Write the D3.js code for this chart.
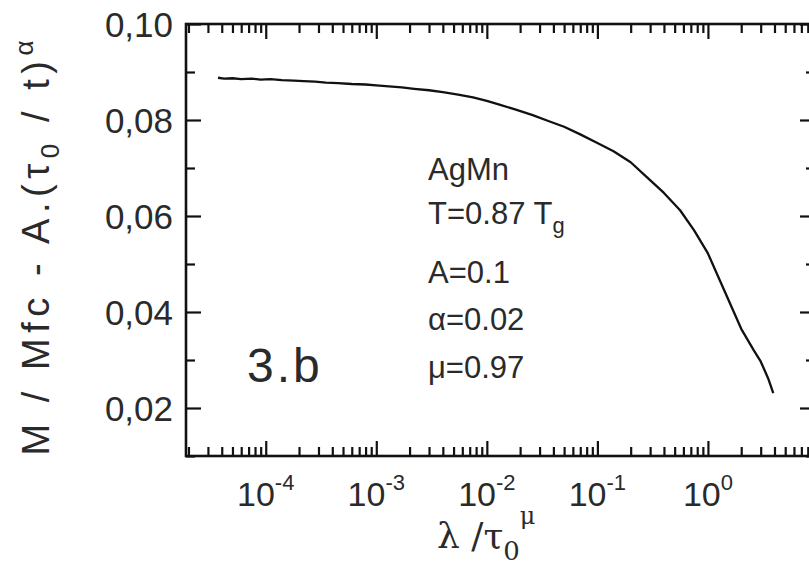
<!DOCTYPE html>
<html>
<head>
<meta charset="utf-8">
<script src="https://cdn.jsdelivr.net/npm/d3@7"></script>
<style>
  html, body { margin: 0; padding: 0; background: #fff; }
  svg { display: block; }
  text { fill: #2a2a2a; }
  .sans { font-family: "Liberation Sans", Arial, sans-serif; }
  .serif { font-family: "DejaVu Serif", "Liberation Serif", serif; }
</style>
</head>
<body>
<svg id="chart" width="809" height="575"></svg>
<script>
// ---- data ----
const xValues = [3.7e-5, 4.2e-5, 5.0e-5, 6.0e-5, 7.5e-5, 9.0e-5, 1.1e-4, 1.4e-4, 1.8e-4, 2.2e-4,
  2.8e-4, 3.5e-4, 4.5e-4, 6.0e-4, 8.0e-4, 1.0e-3, 1.3e-3, 1.7e-3, 2.2e-3, 3.0e-3,
  4.0e-3, 5.5e-3, 7.5e-3, 1.0e-2, 1.3e-2, 1.8e-2, 2.6e-2, 3.6e-2, 5.0e-2, 7.0e-2,
  1.0e-1, 1.4e-1, 2.0e-1, 2.8e-1, 4.0e-1, 5.6e-1, 7.5e-1, 1.0, 1.4, 2.0, 2.6, 3.0, 3.5, 3.9];
const yValues = [0.0888, 0.0886, 0.0887, 0.0885, 0.0886, 0.0884, 0.0885, 0.0883, 0.0882, 0.0881,
  0.0880, 0.0878, 0.0877, 0.0875, 0.0874, 0.0872, 0.0870, 0.0868, 0.0865, 0.0862,
  0.0858, 0.0853, 0.0847, 0.0840, 0.0832, 0.0822, 0.0810, 0.0798, 0.0786, 0.0770,
  0.0752, 0.0735, 0.0712, 0.0681, 0.0648, 0.0612, 0.0570, 0.0522, 0.0446, 0.0365,
  0.0320, 0.0297, 0.0262, 0.0231];
const yTickValues = [0.02, 0.04, 0.06, 0.08, 0.10];
const yTickLabels = ["0,02", "0,04", "0,06", "0,08", "0,10"];
const yMinorValues = [0.01, 0.03, 0.05, 0.07, 0.09];
const xTickExponents = [-4, -3, -2, -1, 0];
const annotationLines = ["AgMn", "T=0.87 T", "A=0.1", "α=0.02", "μ=0.97"];
const panelLabel = "3.b";

(function () {
const mL = 186, mR = 815, mT = 24, mB = 456;
const svg = d3.select("#chart");

const x = d3.scaleLog().domain([1.9e-5, 9.3]).range([mL, mR]);
const y = d3.scaleLinear().domain([0.01, 0.10]).range([mB, mT]);

const xMinor = [];
for (let e = -5; e <= 1; e++) {
  for (let k = 2; k <= 9; k++) {
    const v = k * Math.pow(10, e);
    if (v >= x.domain()[0] && v <= x.domain()[1]) xMinor.push(v);
  }
}
const xMajor = xTickExponents.map(e => Math.pow(10, e));

const axisG = svg.append("g");
const bigT = 15, smallT = 9;

axisG.append("g").attr("transform", `translate(0,${mB})`)
  .call(d3.axisBottom(x).tickValues(xMajor).tickSizeInner(-bigT).tickSizeOuter(0).tickFormat(""));
axisG.append("g").attr("transform", `translate(0,${mB})`)
  .call(d3.axisBottom(x).tickValues(xMinor).tickSizeInner(-smallT).tickSizeOuter(0).tickFormat(""));
axisG.append("g").attr("transform", `translate(0,${mT})`)
  .call(d3.axisTop(x).tickValues(xMajor).tickSizeInner(-bigT).tickSizeOuter(0).tickFormat(""));
axisG.append("g").attr("transform", `translate(0,${mT})`)
  .call(d3.axisTop(x).tickValues(xMinor).tickSizeInner(-smallT).tickSizeOuter(0).tickFormat(""));
axisG.append("g").attr("transform", `translate(${mL},0)`)
  .call(d3.axisLeft(y).tickValues(yTickValues).tickSizeInner(-bigT).tickSizeOuter(0).tickFormat(""));
axisG.append("g").attr("transform", `translate(${mL},0)`)
  .call(d3.axisLeft(y).tickValues(yMinorValues).tickSizeInner(-smallT).tickSizeOuter(0).tickFormat(""));
axisG.append("g").attr("transform", `translate(${mR},0)`)
  .call(d3.axisRight(y).tickValues(yTickValues).tickSizeInner(-bigT).tickSizeOuter(0).tickFormat(""));
axisG.append("g").attr("transform", `translate(${mR},0)`)
  .call(d3.axisRight(y).tickValues(yMinorValues).tickSizeInner(-smallT).tickSizeOuter(0).tickFormat(""));

axisG.selectAll(".domain").remove();
axisG.selectAll(".tick line").attr("stroke", "#111").attr("stroke-width", 2.2);

svg.append("rect").attr("x", mL).attr("y", mT)
  .attr("width", mR - mL).attr("height", mB - mT)
  .attr("fill", "none").attr("stroke", "#111").attr("stroke-width", 2.6);

// y tick labels
svg.append("g").attr("class", "sans").selectAll("text").data(yTickValues).join("text")
  .attr("x", 173).attr("y", d => y(d)).attr("dy", "0.36em")
  .attr("text-anchor", "end").attr("font-size", 35)
  .text((d, i) => yTickLabels[i]);

// x tick labels
const xl = svg.append("g").attr("class", "sans").selectAll("text").data(xTickExponents).join("text")
  .attr("x", e => x(Math.pow(10, e))).attr("y", 506)
  .attr("text-anchor", "middle").attr("font-size", 34);
xl.append("tspan").text("10");
xl.append("tspan").attr("dy", -16).attr("font-size", 22).text(e => String(e));

// curve
const pts = xValues.map((v, i) => [v, yValues[i]]);
svg.append("path").datum(pts)
  .attr("fill", "none").attr("stroke", "#111").attr("stroke-width", 2.3)
  .attr("stroke-linejoin", "round")
  .attr("d", d3.line().x(d => x(d[0])).y(d => y(d[1])));

// annotation
const annY = [180, 224, 283, 330, 378];
const ann = svg.append("g").attr("class", "sans");
annotationLines.forEach((t, i) => {
  const tx = ann.append("text").attr("x", 428).attr("y", annY[i]).attr("font-size", 31);
  tx.append("tspan").text(t);
  if (i === 1) tx.append("tspan").attr("dy", 9).attr("font-size", 22).text("g");
});
svg.append("text").attr("class", "sans")
  .attr("x", 247).attr("y", 382).attr("font-size", 48)
  .attr("letter-spacing", 3).text(panelLabel);

// x axis label (serif)
const xlab = svg.append("text").attr("class", "serif")
  .attr("x", 437).attr("y", 548).attr("font-size", 36);
xlab.append("tspan").text("λ /τ");
xlab.append("tspan").attr("dy", 12).attr("font-size", 26).text("0");
xlab.append("tspan").attr("dy", -36).attr("font-size", 24).text("μ");

// y axis label
const ylab = svg.append("text").attr("class", "sans")
  .attr("transform", "translate(49,248) rotate(-90)")
  .attr("text-anchor", "middle").attr("font-size", 38)
  .attr("textLength", 415).attr("lengthAdjust", "spacing");
ylab.append("tspan").text("M / Mfc - A.(τ");
ylab.append("tspan").attr("dy", 10).attr("font-size", 26).text("0");
ylab.append("tspan").attr("dy", -10).text(" / t)");
ylab.append("tspan").attr("dy", -16).attr("font-size", 26).text("α");
})();
</script>
</body>
</html>
